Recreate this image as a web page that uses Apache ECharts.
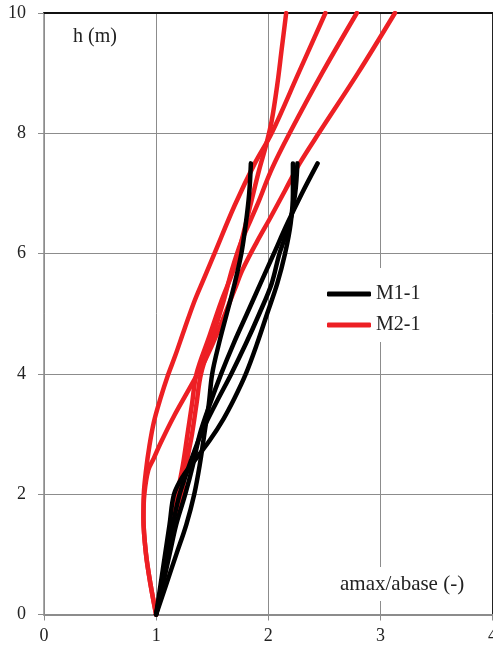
<!DOCTYPE html>
<html>
<head>
<meta charset="utf-8">
<script src="https://cdn.jsdelivr.net/npm/echarts@6/dist/echarts.min.js"></script>
<style>
  html, body { margin: 0; padding: 0; background: #fff; }
  #chart { width: 493px; height: 651px; }
</style>
</head>
<body>
<div id="chart"></div>
<script>
var xTicks = [0, 1, 2, 3, 4];
var yTicks = [0, 2, 4, 6, 8, 10];
var legendNames = ['M1-1', 'M2-1'];

// M1-1 profiles, [amax/abase, h]
var m1A = [[1,0],[1.09,0.5],[1.18,1.0],[1.27,1.5],[1.34,2.0],[1.39,2.5],[1.43,3.0],[1.47,3.5],[1.5,4.0],[1.56,4.5],[1.63,5.0],[1.7,5.5],[1.76,6.0],[1.8,6.5],[1.83,7.0],[1.845,7.5]];
var m1B = [[1,0],[1.04,0.5],[1.08,1.0],[1.12,1.5],[1.16,2.0],[1.24,2.3],[1.36,2.6],[1.48,2.9],[1.6,3.25],[1.7,3.6],[1.8,4.0],[1.9,4.5],[1.99,5.0],[2.08,5.5],[2.15,6.0],[2.2,6.5],[2.22,7.0],[2.22,7.5]];
var m1C = [[1,0],[1.05,0.5],[1.1,1.0],[1.15,1.5],[1.21,2.0],[1.3,2.5],[1.4,3.0],[1.53,3.5],[1.67,4.0],[1.8,4.5],[1.92,5.0],[2.03,5.5],[2.1,6.0],[2.19,6.5],[2.24,7.0],[2.26,7.5]];
var m1D = [[1,0],[1.06,0.5],[1.12,1.0],[1.18,1.5],[1.26,2.0],[1.33,2.5],[1.39,3.0],[1.48,3.5],[1.58,4.0],[1.69,4.5],[1.81,5.0],[1.93,5.5],[2.05,6.0],[2.17,6.5],[2.3,7.0],[2.44,7.5]];

// M2-1 profiles
var m2A = [[1,0],[0.95,0.5],[0.91,1.0],[0.887,1.6],[0.89,2.0],[0.91,2.4],[0.94,2.8],[0.98,3.2],[1.04,3.6],[1.1,3.95],[1.17,4.3],[1.25,4.73],[1.34,5.2],[1.43,5.6],[1.52,6.0],[1.7,6.8],[1.88,7.5],[2.03,8.0],[2.27,9.0],[2.51,10]];
var m2B = [[1,0],[1.05,0.5],[1.1,1.0],[1.15,1.5],[1.19,2.0],[1.24,2.5],[1.28,3.0],[1.32,3.5],[1.36,4.0],[1.47,4.6],[1.58,5.2],[1.69,5.73],[1.76,6.2],[1.84,6.8],[1.92,7.4],[1.98,7.8],[2.03,8.2],[2.08,8.8],[2.12,9.4],[2.16,10]];
var m2C = [[1,0],[1.06,0.5],[1.11,1.0],[1.17,1.57],[1.23,2.0],[1.27,2.5],[1.32,3.0],[1.36,3.5],[1.4,4.0],[1.5,4.6],[1.6,5.2],[1.676,5.73],[1.76,6.2],[1.9,6.8],[2.03,7.4],[2.19,8.0],[2.48,9.0],[2.79,10]];
var m2D = [[1,0],[0.95,0.5],[0.91,1.0],[0.887,1.6],[0.895,2.0],[0.93,2.4],[0.98,2.6],[1.04,2.85],[1.16,3.3],[1.28,3.7],[1.37,4.0],[1.44,4.24],[1.55,4.7],[1.7,5.4],[1.77,5.73],[1.9,6.2],[2.02,6.6],[2.15,7.05],[2.28,7.5],[2.45,8.0],[2.8,9.0],[3.13,10]];

var m1Curves = [m1A, m1B, m1C, m1D];
var m2Curves = [m2A, m2B, m2C, m2D];

var serif = '"Liberation Serif", "DejaVu Serif", serif';
var gridGray = '#8c8c8c';

function makeSeries(name, color, curves) {
  return curves.map(function (pts) {
    return {
      name: name,
      type: 'line',
      data: pts,
      smooth: 0.35,
      symbol: 'none',
      lineStyle: { color: color, width: 4.5, cap: 'round', join: 'round' },
      itemStyle: { color: color }
    };
  });
}

var chart = echarts.init(document.getElementById('chart'));
var option = {
  backgroundColor: '#fff',
  animation: false,
  grid: { left: 44, top: 13, width: 448.5, height: 601.5, outerBoundsMode: 'none', containLabel: false },
  xAxis: [
    {
      type: 'value',
      min: xTicks[0], max: xTicks[xTicks.length - 1], interval: 1,
      position: 'bottom',
      axisLine: { show: true, onZero: false, lineStyle: { color: gridGray, width: 2 } },
      axisTick: { show: true, length: 6, lineStyle: { color: gridGray, width: 1 } },
      splitLine: { show: true, lineStyle: { color: gridGray, width: 1 } },
      axisLabel: { fontFamily: serif, fontSize: 18, color: '#222', margin: 13, hideOverlap: false }
    },
    {
      type: 'value',
      min: xTicks[0], max: xTicks[xTicks.length - 1],
      position: 'top',
      axisLine: { show: true, onZero: false, lineStyle: { color: '#111', width: 2 } },
      axisTick: { show: false },
      axisLabel: { show: false },
      splitLine: { show: false }
    }
  ],
  yAxis: [
    {
      type: 'value',
      min: yTicks[0], max: yTicks[yTicks.length - 1], interval: 2,
      position: 'left',
      axisLine: { show: true, onZero: false, lineStyle: { color: gridGray, width: 1.5 } },
      axisTick: { show: true, length: 6, lineStyle: { color: gridGray, width: 1 } },
      splitLine: { show: true, lineStyle: { color: gridGray, width: 1 } },
      axisLabel: { fontFamily: serif, fontSize: 18, color: '#222', margin: 18 }
    },
    {
      type: 'value',
      min: yTicks[0], max: yTicks[yTicks.length - 1],
      position: 'right',
      axisLine: { show: true, onZero: false, lineStyle: { color: '#222', width: 1 } },
      axisTick: { show: false },
      axisLabel: { show: false },
      splitLine: { show: false }
    }
  ],
  legend: {
    data: legendNames,
    orient: 'vertical',
    left: 322,
    top: 268,
    padding: [16, 10, 7, 5],
    itemWidth: 44,
    itemHeight: 5,
    itemGap: 11,
    icon: 'roundRect',
    backgroundColor: '#fff',
    textStyle: { fontFamily: serif, fontSize: 20, color: '#222' }
  },
  graphic: [
    {
      type: 'text', left: 73, top: 27, z: 100,
      style: { text: 'h (m)', font: '20px ' + serif, fill: '#222' }
    },
    {
      type: 'text', left: 337, top: 567, z: 100,
      style: {
        text: 'amax/abase (-)', font: '21px ' + serif, fill: '#222',
        backgroundColor: '#fff', padding: [7, 3, 6, 3]
      }
    }
  ],
  series: makeSeries('M2-1', '#ed1f24', m2Curves).concat(makeSeries('M1-1', '#000000', m1Curves))
};
chart.setOption(option);
</script>
</body>
</html>
